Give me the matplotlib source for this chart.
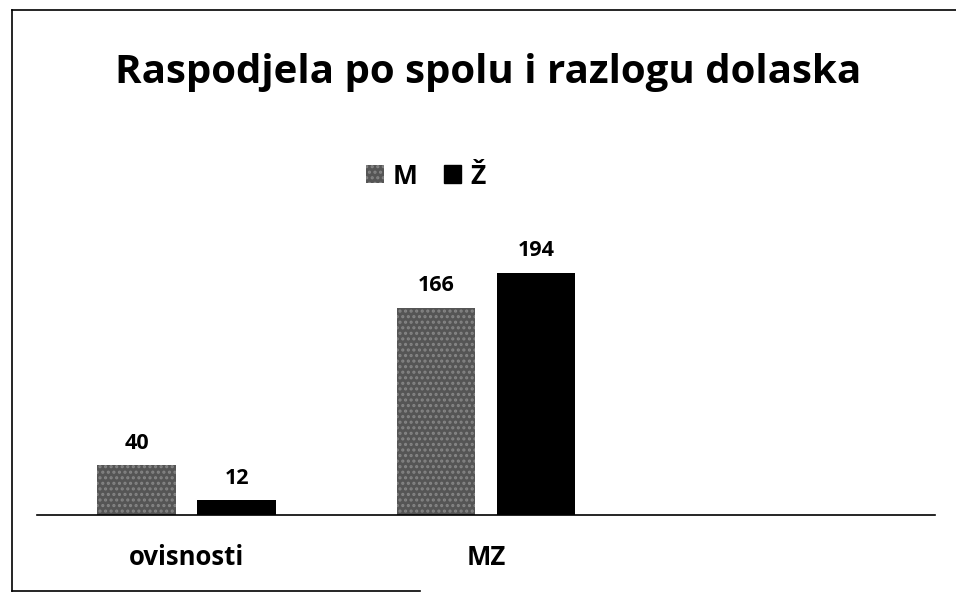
import numpy as np
import matplotlib.pyplot as plt
from matplotlib.lines import Line2D

plt.rcParams['font.family'] = ['Open Sans', 'DejaVu Sans']
plt.rcParams['hatch.linewidth'] = 1.5

categories = ["ovisnosti", "MZ", ""]
m_values = [40, 166, None]
z_values = [12, 194, None]
series_names = ["M", "Ž"]

W, H = 956, 594
fig = plt.figure(figsize=(W / 100, H / 100), dpi=100)

# axes placed in pixel terms: baseline at y=515, 1.25 px per unit
base_px, top_px = 515, 250
ax = fig.add_axes([37 / W, 1 - base_px / H, (935 - 37) / W, (base_px - top_px) / H])
ax.set_xlim(-0.5, 2.5)
ax.set_ylim(0, (base_px - top_px) / 1.25)

x = np.arange(len(categories))
bw, off = 0.262, 0.167
mv = [v if v is not None else 0 for v in m_values]
zv = [v if v is not None else 0 for v in z_values]
bm = ax.bar(x - off, mv, bw, color='#555555', edgecolor='#858585', hatch='...', linewidth=0)
bz = ax.bar(x + off, zv, bw, color='black', linewidth=0)
for bars, vals in ((bm, m_values), (bz, z_values)):
    for b, v in zip(bars, vals):
        if v is None:
            continue
        ax.annotate(str(v), (b.get_x() + b.get_width() / 2, v), xytext=(0, 8),
                    textcoords='offset points', ha='center', va='bottom',
                    fontsize=15.5, fontweight='bold')

for s in ('top', 'right', 'left'):
    ax.spines[s].set_visible(False)
ax.spines['bottom'].set_linewidth(1.2)
ax.set_yticks([])
ax.set_xticks(x)
ax.set_xticklabels(categories, fontsize=18.5, fontweight='bold')
ax.tick_params(axis='x', length=0, pad=21)

fig.text(488 / W, 1 - 72 / H, "Raspodjela po spolu i razlogu dolaska",
         ha='center', va='center', fontsize=29, fontweight='bold')

handles = [plt.Rectangle((0, 0), 1, 1, facecolor='#555555', edgecolor='#858585', hatch='...', lw=0),
           plt.Rectangle((0, 0), 1, 1, color='black')]
fig.legend(handles, series_names, loc='center', bbox_to_anchor=(426 / W, 1 - 176 / H),
           ncol=2, frameon=False, handlelength=0.65, handleheight=0.65,
           handletextpad=0.35, columnspacing=1.0, prop={'size': 19, 'weight': 'bold'})

# scanned frame: left, top and part of bottom edge
fx = lambda p: p / W
fy = lambda p: 1 - p / H
fig.add_artist(Line2D([fx(12), fx(12)], [fy(10), fy(591)], color='black', lw=1.2))
fig.add_artist(Line2D([fx(12), fx(956)], [fy(10), fy(10)], color='black', lw=1.2))
fig.add_artist(Line2D([fx(12), fx(420)], [fy(591), fy(591)], color='black', lw=1.2))

fig.savefig("out.png", dpi=100)
